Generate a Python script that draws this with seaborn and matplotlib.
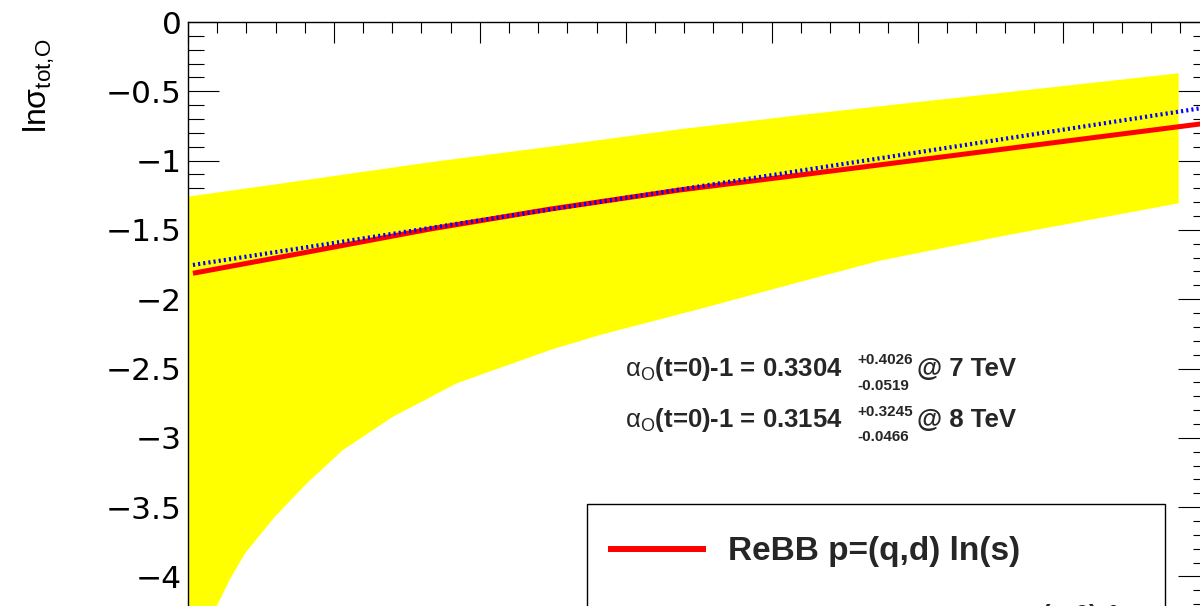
import numpy as np
import matplotlib
matplotlib.use("Agg")
import matplotlib.pyplot as plt
import seaborn as sns
from matplotlib.ticker import MultipleLocator, FuncFormatter
from matplotlib.patches import Rectangle
from matplotlib.lines import Line2D

# --- values (x in major-tick units, y = ln sigma) ---
band_up_x = [0.0, 0.77, 1.66, 2.48, 3.37, 4.20, 5.57, 6.79]
band_up_y = [-1.260, -1.146, -1.012, -0.900, -0.774, -0.671, -0.512, -0.370]

band_lo_x = [0.0, 0.082, 0.197, 0.288, 0.391, 0.596, 0.814, 1.062, 1.405,
             1.842, 2.481, 2.824, 3.509, 4.195, 4.743, 5.565, 6.79]
band_lo_y = [-7.0, -5.0, -4.214, -4.020, -3.834, -3.569, -3.329, -3.088, -2.848,
             -2.607, -2.367, -2.258, -2.070, -1.875, -1.722, -1.548, -1.308]

rebb_x = [0.034, 0.768, 1.659, 2.481, 3.372, 4.195, 4.949, 6.936, 7.0]
rebb_y = [-1.813, -1.670, -1.494, -1.350, -1.212, -1.104, -1.003, -0.736, -0.728]

fit_x = [0.034, 1.659, 3.372, 4.195, 6.936, 7.0]
fit_y = [-1.753, -1.486, -1.208, -1.073, -0.623, -0.613]

alpha_vals = ["0.3304", "0.3154"]
alpha_up = ["+0.4026", "+0.3245"]
alpha_dn = ["-0.0519", "-0.0466"]
energies = ["7 TeV", "8 TeV"]

sns.set_theme(style="white")
plt.rcParams['font.family'] = ['DejaVu Sans']
plt.rcParams['mathtext.fontset'] = 'custom'
plt.rcParams['mathtext.rm'] = 'Liberation Sans'
plt.rcParams['mathtext.it'] = 'Liberation Sans:italic'
plt.rcParams['mathtext.bf'] = 'Liberation Sans:bold'

W, H = 1200, 606
fig = plt.figure(figsize=(W / 100, H / 100), dpi=100)
fig.patch.set_facecolor('white')


def fx(px):
    return px / W


def fy(py):
    return 1 - py / H


# axes frame: left edge at 188 px, top at 22 px; it runs past the crop
left, top = 188, 22
right = left + 7 * 145.9
bottom = top + 4.5 * 138.6
ax = fig.add_axes([fx(left), fy(bottom), (right - left) / W, (bottom - top) / H])
ax.set_facecolor('white')

# yellow band as one polygon: upper edge left->right, lower edge back
ax.fill(np.concatenate([band_up_x, band_lo_x[::-1]]),
        np.concatenate([band_up_y, band_lo_y[::-1]]),
        color='#ffff00', linewidth=0, zorder=1)

sns.lineplot(x=rebb_x, y=rebb_y, ax=ax, color='#ff0000', linewidth=3.6,
             solid_capstyle='butt', zorder=2)
sns.lineplot(x=fit_x, y=fit_y, ax=ax, color='#0000ff', linewidth=3.0,
             linestyle=(0, (0.5, 0.75)), dash_capstyle='butt', zorder=3)

ax.set_xlim(0, 7)
ax.set_ylim(-4.5, 0)
ax.set_xlabel('')
ax.set_ylabel('')


def ylab(v, p):
    if v < -4.2:
        return ''
    if abs(v) < 1e-9:
        return '0'
    return f'{v:g}'.replace('-', '\u2212')


ax.xaxis.set_major_locator(MultipleLocator(1))
ax.xaxis.set_minor_locator(MultipleLocator(0.2))
ax.yaxis.set_major_locator(MultipleLocator(0.5))
ax.yaxis.set_minor_locator(MultipleLocator(0.1))
ax.yaxis.set_major_formatter(FuncFormatter(ylab))

ax.tick_params(axis='x', which='both', direction='in', top=True, bottom=False,
               labeltop=False, labelbottom=False, color='black', width=0.8)
ax.tick_params(axis='x', which='major', length=15)
ax.tick_params(axis='x', which='minor', length=8)
ax.tick_params(axis='y', which='both', direction='in', left=True, right=True,
               color='black', width=0.8, labelsize=22.5, pad=4.5, labelcolor='black')
ax.tick_params(axis='y', which='major', length=22.3)
ax.tick_params(axis='y', which='minor', length=11.5)
for s in ax.spines.values():
    s.set_color('black')
    s.set_linewidth(1.0)

# y title
fig.text(fx(39), fy(38), r'ln$\mathrm{\sigma}_{\mathrm{tot,\!O}}$', rotation=90,
         ha='center', va='top', fontsize=23, family='Liberation Sans', color='black')

# alpha annotations
for i in range(2):
    base = [376, 427.3][i]
    fig.text(fx(625), fy(base), r'$\mathrm{\alpha}_{\mathrm{O}}$(t=0)-1 = ' + alpha_vals[i],
             fontsize=18.5, fontweight='bold', family='Liberation Sans', va='baseline')
    fig.text(fx(857), fy(base - 11.5), alpha_up[i], fontsize=11, fontweight='bold',
             family='Liberation Sans', va='baseline')
    fig.text(fx(857), fy(base + 14), alpha_dn[i], fontsize=11, fontweight='bold',
             family='Liberation Sans', va='baseline')
    fig.text(fx(917), fy(base), '@ ' + energies[i], fontsize=18.5, fontweight='bold',
             family='Liberation Sans', va='baseline')

# legend box (cut by the bottom of the crop)
fig.add_artist(Rectangle((fx(587), fy(660)), (1165 - 587) / W, (660 - 504) / H,
                         transform=fig.transFigure, facecolor='white',
                         edgecolor='black', linewidth=1.0, zorder=5))
fig.add_artist(Line2D([fx(608), fx(706)], [fy(549), fy(549)], transform=fig.transFigure,
                      color='#ff0000', linewidth=4.3, solid_capstyle='butt', zorder=6))
fig.text(fx(728), fy(560), 'ReBB p=(q,d) ln(s)', fontsize=24, fontweight='bold',
         family='Liberation Sans', va='baseline', zorder=6)
fig.text(fx(1012), fy(602), r'$\mathrm{\alpha}_{\mathrm{O}}$(t=0)-1', fontsize=18.5,
         fontweight='bold', family='Liberation Sans', va='top', zorder=6)

fig.savefig('out.png', dpi=100)
